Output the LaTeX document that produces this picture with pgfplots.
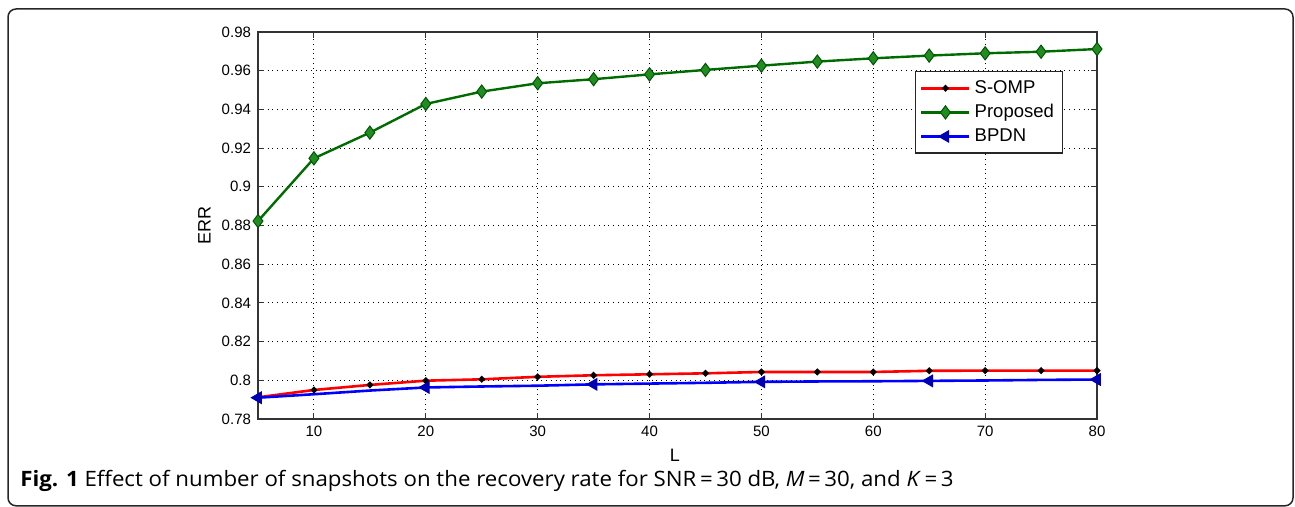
\documentclass[border=0pt]{standalone}
\usepackage{fontspec}
\setmainfont{Liberation Sans}
\newfontfamily\capfont[FakeStretch=1.05]{Open Sans}
\usepackage{pgfplots}
\usepackage{pgfplotstable}
\pgfplotsset{compat=1.18}

% Recovery rate (ERR) versus number of snapshots L
\pgfplotstableread{
L    ERR
5    0.7912
10   0.7950
15   0.7976
20   0.7998
25   0.8005
30   0.8018
35   0.8026
40   0.8031
45   0.8036
50   0.8043
55   0.8043
60   0.8043
65   0.8049
70   0.8050
75   0.8050
80   0.8050
}\somp
\pgfplotstableread{
L    ERR
5    0.8823
10   0.9147
15   0.9280
20   0.9428
25   0.9492
30   0.9535
35   0.9556
40   0.9581
45   0.9604
50   0.9626
55   0.9647
60   0.9664
65   0.9678
70   0.9690
75   0.9698
80   0.9712
}\proposed
\pgfplotstableread{
L    ERR
5    0.7910
10   0.7928
15   0.7947
20   0.7963
25   0.7968
30   0.7972
35   0.7979
40   0.7983
45   0.7987
50   0.7992
55   0.7994
60   0.7995
65   0.7997
70   0.7999
75   0.8002
80   0.8004
}\bpdn

\definecolor{mgreen}{rgb}{0.0,0.42,0.0}
\definecolor{mgreenfill}{rgb}{0.13,0.55,0.13}
\definecolor{mbluefill}{rgb}{0.0,0.0,0.7}

\begin{document}
\begin{tikzpicture}
\useasboundingbox (0,0) rectangle (647.5pt,253.5pt);
\draw[line width=0.75pt, black!85, rounded corners=4pt] (4pt,0.6pt) rectangle (646.5pt,249pt);
\begin{axis}[
  at={(129pt,44pt)}, anchor=south west,
  width=419.5pt, height=193.5pt, scale only axis,
  xmin=5, xmax=80, ymin=0.78, ymax=0.98,
  xtick={10,20,...,80},
  ytick={0.78,0.80,0.82,0.84,0.86,0.88,0.90,0.92,0.94,0.96,0.98},
  tick align=inside, tick pos=both, ticklabel pos=left,
  major tick length=3pt,
  tick style={black!80, line width=0.5pt},
  axis line style={black!80, line width=0.6pt},
  grid=major,
  major grid style={dotted, black, line width=0.5pt},
  tick label style={font=\fontsize{7.5}{9}\selectfont},
  /pgf/number format/assume math mode=true,
  label style={font=\fontsize{9}{11}\selectfont},
  xlabel={L}, ylabel={ERR},
  xlabel style={at={(axis description cs:0.497,-0.093)}, anchor=center},
  ylabel style={at={(axis description cs:-0.064,0.5)}, anchor=center},
  legend cell align=left,
  legend image code/.code={%
    \draw[#1, mark repeat=2, mark phase=2]
      plot coordinates {(0pt,0pt) (12pt,0pt) (24pt,0pt)};},
  legend style={at={(rel axis cs:0.783,0.899)}, anchor=north west,
    font=\fontsize{9.25}{11}\selectfont, draw=black!85, line width=0.6pt,
    inner sep=2.3pt, row sep=0pt},
]
\addplot[red, line width=1.3pt, mark=*, mark size=0.9pt,
  mark options={black, fill=black}] table[x=L, y=ERR] {\somp};
\addlegendentry{S-OMP}
\addplot[mgreen, line width=1.2pt, mark=diamond*, mark size=3.3pt,
  mark options={draw=mgreen!80!black, fill=mgreenfill, line width=0.5pt}] table[x=L, y=ERR] {\proposed};
\addlegendentry{Proposed}
\addplot[blue, line width=1.3pt, mark=triangle*, mark size=3.3pt, mark repeat=3,
  mark options={rotate=90, draw=mbluefill, fill=mbluefill, line width=0.5pt}] table[x=L, y=ERR] {\bpdn};
\addlegendentry{BPDN}
\end{axis}
\node[anchor=base west, inner sep=0pt] at (10pt,10pt)
  {\capfont\fontsize{10.6}{12}\selectfont\textbf{Fig. 1} Effect of number of snapshots on the recovery rate for SNR\,=\,30 dB, \textit{M}\,=\,30, and \textit{K}\,=\,3};
\end{tikzpicture}
\end{document}
